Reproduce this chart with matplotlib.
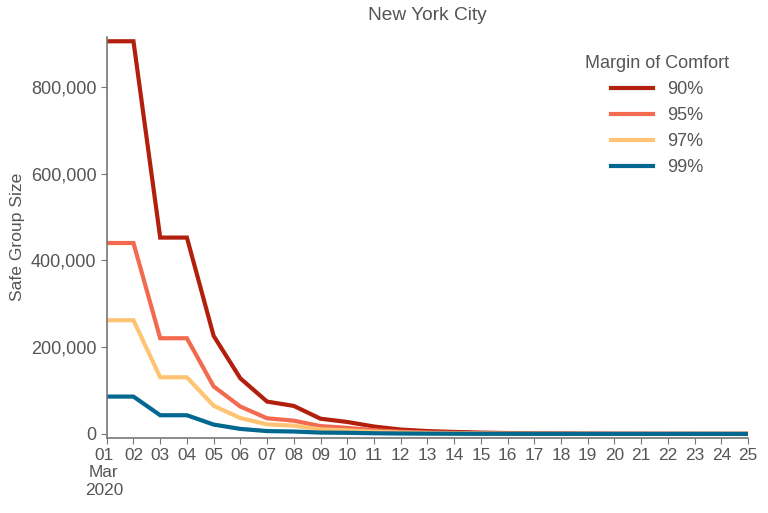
import matplotlib
matplotlib.use("Agg")
import matplotlib.pyplot as plt
import matplotlib.transforms as mtransforms
from matplotlib.ticker import FuncFormatter

days = list(range(1, 26))
day_labels = ["01\nMar\n2020"] + ["%02d" % d for d in days[1:]]

mc90 = [905000, 905000, 452500, 452500, 226000, 128000, 74500, 64500, 35000, 27500,
        17000, 10000, 6500, 4500, 3000, 2000, 1300, 900, 600, 400, 300, 200, 150, 100, 80]
mc95 = [440000, 440000, 220500, 220500, 109500, 63000, 36000, 30500, 18000, 14000,
        8500, 5000, 3200, 2200, 1500, 1000, 650, 450, 300, 200, 150, 100, 70, 50, 40]
mc97 = [262000, 262000, 130500, 130500, 65000, 36500, 22000, 19000, 10500, 8000,
        5000, 3000, 1900, 1300, 900, 600, 400, 260, 180, 120, 90, 60, 40, 30, 25]
mc99 = [86000, 86000, 43000, 43000, 21500, 11500, 6500, 5500, 3000, 2500,
        1500, 900, 600, 400, 280, 180, 120, 80, 55, 40, 30, 20, 15, 10, 8]

labels = ["90%", "95%", "97%", "99%"]
colors = ["#b21f0d", "#f26a50", "#fec473", "#03688f"]

plt.rcParams['font.family'] = ['Liberation Sans', 'DejaVu Sans']
grey = "#555555"

fig = plt.figure(figsize=(7.68, 5.13), dpi=100)
ax = fig.add_axes([0.139, 0.147, 0.835, 0.781])

for vals, lab, col in zip([mc90, mc95, mc97, mc99], labels, colors):
    ax.plot(days, vals, color=col, lw=3, label=lab, solid_joinstyle='miter')

ax.set_xlim(1, 25)
ax.set_ylim(-8500, 915000)
ax.set_xticks(days)
ax.set_xticklabels(day_labels)
ax.set_yticks([0, 200000, 400000, 600000, 800000])
ax.yaxis.set_major_formatter(FuncFormatter(lambda v, p: "{:,.0f}".format(v)))

for s in ["top", "right"]:
    ax.spines[s].set_visible(False)
for s in ["left", "bottom"]:
    ax.spines[s].set_color("#777777")
    ax.spines[s].set_linewidth(1.2)
ax.tick_params(colors="#777777", labelcolor=grey, labelsize=13, length=4)
ax.tick_params(axis="x", labelsize=12.4)

# nudge the first (multi-line) date label a touch left so it clears "02"
first = ax.get_xticklabels()[0]
first.set_transform(first.get_transform() +
                    mtransforms.ScaledTranslation(-3 / 100, 0, fig.dpi_scale_trans))

ax.set_ylabel("Safe Group Size", fontsize=12.6, color=grey)
ax.set_title("New York City", fontsize=13.8, color=grey, pad=12)

leg = ax.legend(title="Margin of Comfort", frameon=False, loc="upper right",
                bbox_to_anchor=(0.996, 0.995), fontsize=13, title_fontsize=13,
                handlelength=2.3, labelspacing=0.5)
for t in leg.get_texts():
    t.set_color(grey)
leg.get_title().set_color(grey)

fig.savefig("out.png", dpi=100)
